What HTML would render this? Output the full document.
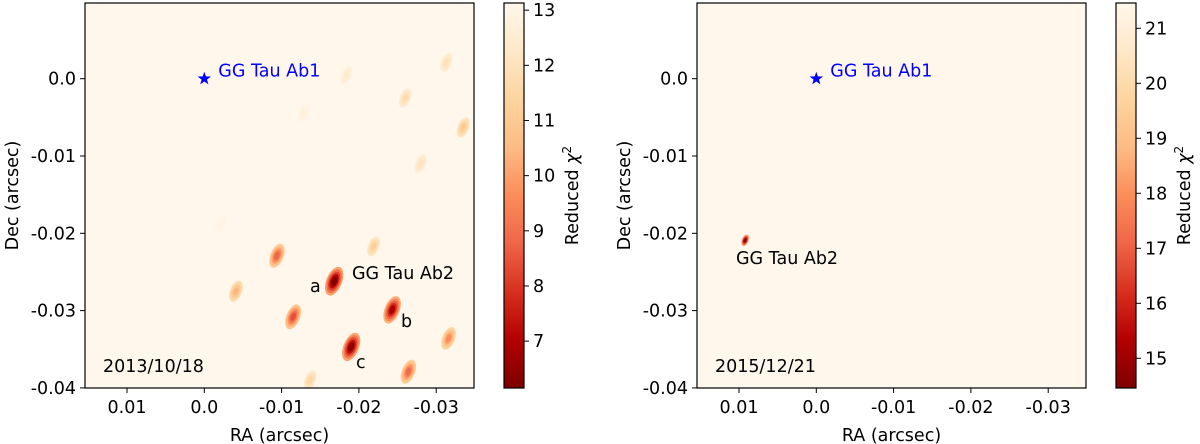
<!DOCTYPE html>
<html><head><meta charset="utf-8"><style>
body{margin:0;background:#fff;}
svg{display:block;font-family:"DejaVu Sans","Liberation Sans",sans-serif;}
</style></head><body>
<svg id="fig" width="1200" height="444" viewBox="0 0 1200 444" xmlns="http://www.w3.org/2000/svg">
<defs>
<linearGradient id="cmap" x1="0" y1="1" x2="0" y2="0">
<stop offset="0" stop-color="#7f0000"/><stop offset="0.125" stop-color="#b30000"/><stop offset="0.25" stop-color="#d7301f"/><stop offset="0.375" stop-color="#ef6548"/><stop offset="0.5" stop-color="#fc8d59"/><stop offset="0.625" stop-color="#fdbb84"/><stop offset="0.75" stop-color="#fdd49e"/><stop offset="0.875" stop-color="#fee8c8"/><stop offset="1" stop-color="#fff7ec"/>
</linearGradient>
</defs>
</svg>
<script>
// Panel 1 data (2013/10/18)
const blobRA1 = [-0.0184,-0.0313,-0.0260,-0.0129,-0.0335,-0.0280,-0.0219,-0.0094,-0.0168,-0.0041,-0.0243,-0.0115,-0.0316,-0.0190,-0.0264,-0.0137,-0.0022];
const blobDec1 = [0.0005,0.0021,-0.0025,-0.0044,-0.0063,-0.0110,-0.0217,-0.0229,-0.0262,-0.0275,-0.0299,-0.0308,-0.0336,-0.0347,-0.0379,-0.0390,-0.0188];
const blobChi1 = [12.4,11.9,11.7,12.7,11.0,12.0,11.2,8.8,6.2,10.4,6.9,8.4,9.6,6.4,8.9,11.5,12.9];
// Panel 2 data (2015/12/21)
const blobRA2 = [0.0092];
const blobDec2 = [-0.0209];
const blobChi2 = [14.8];
const xTicks = [0.01,0.0,-0.01,-0.02,-0.03];
const xTickLabels = ["0.01","0.0","-0.01","-0.02","-0.03"];
const yTicks = [0.0,-0.01,-0.02,-0.03,-0.04];
const yTickLabels = ["0.0","-0.01","-0.02","-0.03","-0.04"];
const cbTicks1 = [7,8,9,10,11,12,13];
const cbTicks2 = [15,16,17,18,19,20,21];

const NS="http://www.w3.org/2000/svg";
const svg=document.getElementById('fig');
const FS=17.5;
const cols=["#7f0000","#b30000","#d7301f","#ef6548","#fc8d59","#fdbb84","#fdd49e","#fee8c8","#fff7ec"];
function hex(c){return [parseInt(c.slice(1,3),16),parseInt(c.slice(3,5),16),parseInt(c.slice(5,7),16)];}
function cmap(t){t=Math.max(0,Math.min(1,t));const p=t*8,i=Math.min(7,Math.floor(p)),f=p-i;const a=hex(cols[i]),b=hex(cols[i+1]);return `rgb(${a.map((v,k)=>Math.round(v+(b[k]-v)*f)).join(',')})`;}
function el(tag,attrs,parent){const e=document.createElementNS(NS,tag);for(const k in attrs)e.setAttribute(k,attrs[k]);(parent||svg).appendChild(e);return e;}
function txt(s,attrs,parent){const e=el('text',attrs,parent);e.textContent=s;return e;}

function panel(off,ra,dec,chi,vmin,vmax,cbt,date,id){
  const L=85+off,R=474+off,T=3,B=388;
  const xs=v=>204.3+off-(v/0.01)*77.3;
  const ys=v=>78.7-(v/0.01)*77.3;
  const g=el('g',{});
  
  
  el('rect',{x:L,y:T,width:R-L,height:B-T,fill:'#fff7ec'},g);
  const cp=el('clipPath',{id:'cp'+id},g);el('rect',{x:L,y:T,width:R-L,height:B-T},cp);
  const bg=el('g',{'clip-path':`url(#cp${id})`},g);
  for(let i=0;i<ra.length;i++){
    const cx=xs(ra[i]),cy=ys(dec[i]);
    const b=el('g',{transform:`translate(${cx},${cy}) rotate(22)`},bg);
    
    
    const depth=(vmax-chi[i])/(vmax-vmin);
    const sc=id==='p2'?0.4:(0.6+0.45*depth);
    for(let k=0;k<5;k++){
      const f=k/4;
      const v=vmax-(vmax-chi[i])*(0.45+0.55*f);
      el('ellipse',{cx:0,cy:0,rx:(7*(1-f*0.7))*sc+0.5,ry:(14*(1-f*0.7))*sc+0.5,fill:cmap((v-vmin)/(vmax-vmin))},b);
    }
  }
  el('rect',{x:L,y:T,width:R-L,height:B-T,fill:'none',stroke:'#000','stroke-width':1.2},g);
  xTicks.forEach((v,i)=>{const x=xs(v);el('line',{x1:x,y1:B,x2:x,y2:B+5,stroke:'#000'},g);
    const t=txt(xTickLabels[i],{x:x,y:B+25,'font-size':FS,'text-anchor':'middle'},g);
    });
  yTicks.forEach((v,i)=>{const y=ys(v);el('line',{x1:L-5,y1:y,x2:L,y2:y,stroke:'#000'},g);
    const t=txt(yTickLabels[i],{x:L-9,y:y+6,'font-size':FS,'text-anchor':'end'},g);
    });
  const xl=txt('RA (arcsec)',{x:(L+R)/2,y:441,'font-size':FS,'text-anchor':'middle'},g);
  
  const yl=txt('Dec (arcsec)',{x:0,y:0,'font-size':FS,'text-anchor':'middle',transform:`translate(${18+off},${(T+B)/2}) rotate(-90)`},g);
  
  const sx=xs(0),sy=ys(0);let pts=[];for(let k=0;k<10;k++){const r=k%2?2.8:7,a=-Math.PI/2+k*Math.PI/5;pts.push((sx+r*Math.cos(a)).toFixed(1)+','+(sy+r*Math.sin(a)).toFixed(1));}
  const st=el('polygon',{points:pts.join(' '),fill:'#0000ff'},g);
  
  const a1=txt('GG Tau Ab1',{x:sx+14,y:sy-2,'font-size':FS,fill:'#0000ff'},g);
  
  const d=txt(date,{x:L+18,y:372,'font-size':FS},g);
  
  const cx0=504+off;
  const cb=el('g',{},g);
  
  el('rect',{x:cx0,y:T,width:20,height:B-T,fill:'url(#cmap)',stroke:'#000','stroke-width':1.2},cb);
  const cys=v=>B-(v-vmin)/(vmax-vmin)*(B-T);
  cbt.forEach(v=>{const y=cys(v);el('line',{x1:cx0+20,y1:y,x2:cx0+25,y2:y,stroke:'#000'},cb);
    const t=txt(String(v),{x:cx0+29,y:y+6,'font-size':FS},cb);
    });
  const ct=el('text',{x:0,y:0,'font-size':FS,'text-anchor':'middle',transform:`translate(${578+off},${(T+B)/2}) rotate(-90)`},cb);
  ct.innerHTML='Reduced <tspan font-style="italic">χ</tspan><tspan font-size="12" dy="-7">2</tspan>';
  
  return g;
}
const g1=panel(0,blobRA1,blobDec1,blobChi1,6.15,13.13,cbTicks1,'2013/10/18','p1');
[['GG Tau Ab2',352,279,'ab2-label'],['a',310,292,'minimum-a-label'],['b',401,327,'minimum-b-label'],['c',356,368,'minimum-c-label']].forEach(l=>{
  const t=txt(l[0],{x:l[1],y:l[2],'font-size':FS},g1);});
const g2=panel(612,blobRA2,blobDec2,blobChi2,14.46,21.46,cbTicks2,'2015/12/21','p2');
const t2=txt('GG Tau Ab2',{x:736,y:264,'font-size':FS},g2);

</script>
</body></html>
